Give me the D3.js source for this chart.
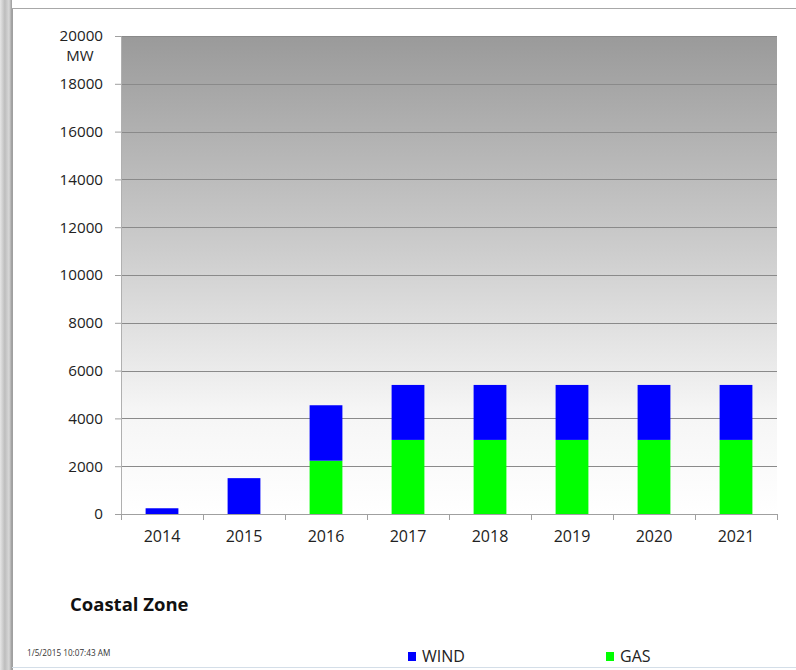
<!DOCTYPE html>
<html><head><meta charset="utf-8">
<script src="https://cdn.jsdelivr.net/npm/d3@7"></script>
<style>body{margin:0;background:#fff;}svg{display:block;font-family:"Open Sans",sans-serif;}</style>
</head><body><svg id="c" width="796" height="670"></svg>
<script>
const years = ["2014","2015","2016","2017","2018","2019","2020","2021"];
const gas  = [0, 0, 2230, 3100, 3100, 3100, 3100, 3100];
const wind = [240, 1500, 2320, 2300, 2300, 2300, 2300, 2300];
const yTicks = [0,2000,4000,6000,8000,10000,12000,14000,16000,18000,20000];
const seriesNames = ["GAS","WIND"];
const colors = {GAS:"#00ff00", WIND:"#0000ff"};
const title = "Coastal Zone";
const unit = "MW";
const stamp = "1/5/2015 10:07:43 AM";

const svg = d3.select("#c");
const defs = svg.append("defs");
const lg = defs.append("linearGradient").attr("id","bg").attr("x1",0).attr("y1",0).attr("x2",0).attr("y2",1);
lg.append("stop").attr("offset","0%").attr("stop-color","#9a9a9a");
lg.append("stop").attr("offset","45%").attr("stop-color","#cdcdcd");
lg.append("stop").attr("offset","78%").attr("stop-color","#f5f5f5");
lg.append("stop").attr("offset","100%").attr("stop-color","#ffffff");
const lg2 = defs.append("linearGradient").attr("id","side").attr("x1",0).attr("y1",0).attr("x2",1).attr("y2",0);
lg2.append("stop").attr("offset","0%").attr("stop-color","#e6e6e6");
lg2.append("stop").attr("offset","40%").attr("stop-color","#bdbdbd");
lg2.append("stop").attr("offset","75%").attr("stop-color","#d8d8d8");
lg2.append("stop").attr("offset","100%").attr("stop-color","#9a9a9a");

// frame
svg.append("rect").attr("x",0).attr("y",0).attr("width",12).attr("height",670).attr("fill","url(#side)");
svg.append("line").attr("x1",12.5).attr("x2",12.5).attr("y1",8).attr("y2",670).attr("stroke","#a0a0a0");
svg.append("line").attr("x1",12).attr("x2",796).attr("y1",8.5).attr("y2",8.5).attr("stroke","#a8a8a8");
svg.append("line").attr("x1",12).attr("x2",796).attr("y1",667.5).attr("y2",667.5).attr("stroke","#d4dee8");

const m = {l:121, r:777, t:36, b:514};
const x = d3.scaleBand().domain(years).range([m.l,m.r]).paddingInner(0.6).paddingOuter(0.3);
const xb = d3.scaleBand().domain(years).range([m.l,m.r]);
const y = d3.scaleLinear().domain([0,20000]).range([m.b,m.t]);

svg.append("rect").attr("x",m.l).attr("y",m.t).attr("width",m.r-m.l).attr("height",m.b-m.t).attr("fill","url(#bg)");

// gridlines
svg.append("g").selectAll("line").data(yTicks.filter(d=>d>0)).join("line")
  .attr("x1",m.l).attr("x2",m.r).attr("y1",d=>Math.round(y(d))+0.5).attr("y2",d=>Math.round(y(d))+0.5)
  .attr("stroke","#8a8a8a").attr("stroke-width",1);

// y axis
const ya = svg.append("g").attr("transform",`translate(${m.l},0)`)
  .call(d3.axisLeft(y).tickValues(yTicks).tickSize(6).tickPadding(12).tickFormat(d3.format("d")));
ya.select(".domain").attr("stroke","#b0b0b0");
ya.selectAll(".tick line").attr("stroke","#a0a0a0");
ya.selectAll("text").attr("font-size",15.2).attr("fill","#222").attr("font-family","'Open Sans',sans-serif");
svg.append("text").attr("x",80).attr("y",61).attr("text-anchor","middle").attr("font-size",15).attr("fill","#222").text(unit);

// stacked bars
const rows = years.map((yr,i)=>({year:yr, GAS:gas[i], WIND:wind[i]}));
const stack = d3.stack().keys(seriesNames)(rows);
svg.append("g").selectAll("g").data(stack).join("g").attr("fill",d=>colors[d.key])
  .selectAll("rect").data(d=>d).join("rect")
  .attr("x",d=>x(d.data.year)).attr("width",x.bandwidth())
  .attr("y",d=>y(d[1])).attr("height",d=>y(d[0])-y(d[1]));

// x axis
const xa = svg.append("g").attr("transform",`translate(0,${m.b})`)
  .call(d3.axisBottom(xb).tickSize(0).tickPadding(17));
xa.select(".domain").attr("stroke","#a0a0a0");
xa.selectAll("text").attr("font-size",16).attr("fill","#222").attr("font-family","'Open Sans',sans-serif");
svg.append("g").selectAll("line").data(years.concat(["end"])).join("line")
  .attr("x1",(d,i)=>Math.round(m.l+i*xb.step())+0.5).attr("x2",(d,i)=>Math.round(m.l+i*xb.step())+0.5)
  .attr("y1",m.b).attr("y2",m.b+6).attr("stroke","#a0a0a0");

// title
svg.append("text").attr("x",70).attr("y",611).attr("font-size",18.5).attr("font-weight","bold").attr("fill","#111").text(title);
svg.append("text").attr("x",27).attr("y",656).attr("font-size",8.2).attr("fill","#333").text(stamp);

// legend
const legX = {WIND:408, GAS:606};
["WIND","GAS"].forEach(k=>{
  svg.append("rect").attr("x",legX[k]).attr("y",652).attr("width",8).attr("height",9).attr("fill",colors[k]);
  svg.append("text").attr("x",legX[k]+14).attr("y",662).attr("font-size",16).attr("fill","#222").text(k);
});
</script></body></html>
